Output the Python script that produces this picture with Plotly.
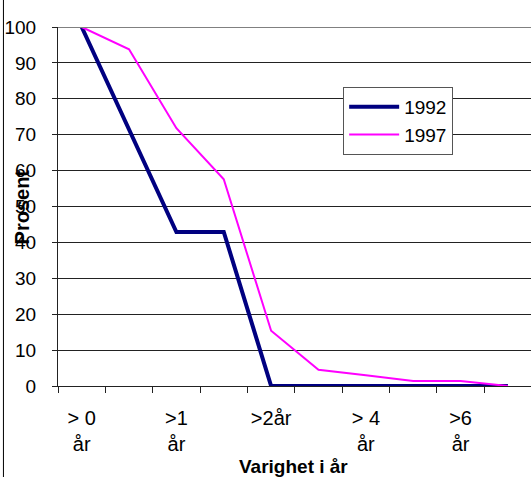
import plotly.graph_objects as go

# Duration categories (labels shown on every other category)
tick_labels = ["> 0<br>år", ">1<br>år", ">2år", "> 4<br>år", ">6<br>år"]
tick_positions = [0, 2, 4, 6, 8]
n_categories = 10

# Share still in the state, percent
series_1992 = [100, 71.4, 42.9, 42.9, 0, 0, 0, 0, 0, 0]
series_1997 = [100, 93.8, 71.8, 57.6, 15.4, 4.5, 3.0, 1.4, 1.4, 0]

x = list(range(n_categories))
boundaries = [i - 0.5 for i in range(n_categories + 1)]

W, H = 531, 477
ml, mr, mt, mb = 57.6, 0, 27, 91
plot_w = W - ml - mr
plot_h = H - mt - mb
cat_w = 47.4
x_end = -0.5 + plot_w / cat_w

font_family = "Liberation Sans, Arial, sans-serif"

fig = go.Figure()
fig.add_trace(go.Scatter(
    x=x, y=series_1992, mode="lines", name="1992",
    line=dict(color="#000080", width=4),
))
fig.add_trace(go.Scatter(
    x=x, y=series_1997, mode="lines", name="1997",
    line=dict(color="#FF00FF", width=2),
))

fig.update_layout(
    width=W, height=H,
    margin=dict(l=ml, r=mr, t=mt, b=mb, pad=0),
    paper_bgcolor="white", plot_bgcolor="white",
    font=dict(family=font_family, size=19, color="black"),
    showlegend=True,
    legend=dict(
        x=(343 - ml) / plot_w, y=(H - mb - 87) / plot_h,
        xanchor="left", yanchor="top",
        bgcolor="white", bordercolor="#555555", borderwidth=1,
        font=dict(size=19), itemwidth=50, tracegroupgap=0,
    ),
)

fig.update_xaxes(
    range=[-0.5, x_end], tickmode="array",
    tickvals=tick_positions, ticktext=tick_labels,
    ticks="", showgrid=False, zeroline=False,
    showline=True, linecolor="#222222", linewidth=1,
    tickfont=dict(size=20), ticklabelstandoff=14,
    minor=dict(tickmode="array", tickvals=boundaries, ticks="outside",
               ticklen=6, tickcolor="#222222", tickwidth=1, showgrid=False),
)
fig.update_yaxes(
    range=[0, 100], dtick=10, tick0=0,
    ticks="outside", ticklen=5, tickcolor="#222222",
    showgrid=True, gridcolor="#222222", gridwidth=1, zeroline=False,
    showline=True, linecolor="#222222", linewidth=1,
    tickfont=dict(size=19), ticklabelstandoff=12,
)

# Top border of the plot area
fig.add_shape(type="line", xref="paper", yref="y", x0=0, x1=1, y0=100, y1=100,
              line=dict(color="#808080", width=2))
# Left edge of the chart frame
fig.add_shape(type="line", xref="paper", yref="paper",
              x0=(3 - ml) / plot_w, x1=(3 - ml) / plot_w,
              y0=-mb / plot_h, y1=(plot_h + mt) / plot_h,
              line=dict(color="black", width=1))

# Axis titles
fig.add_annotation(text="<b>Prosent</b>", textangle=-90, showarrow=False,
                   xref="paper", yref="paper",
                   x=(22 - ml) / plot_w, y=(H - mb - 207) / plot_h,
                   xanchor="center", yanchor="middle",
                   font=dict(size=20, family=font_family, color="black"))
fig.add_annotation(text="<b>Varighet i år</b>", showarrow=False,
                   xref="paper", yref="paper",
                   x=(293 - ml) / plot_w, y=(H - mb - 466) / plot_h,
                   xanchor="center", yanchor="middle",
                   font=dict(size=19, family=font_family, color="black"))

fig.write_html("out.html")
